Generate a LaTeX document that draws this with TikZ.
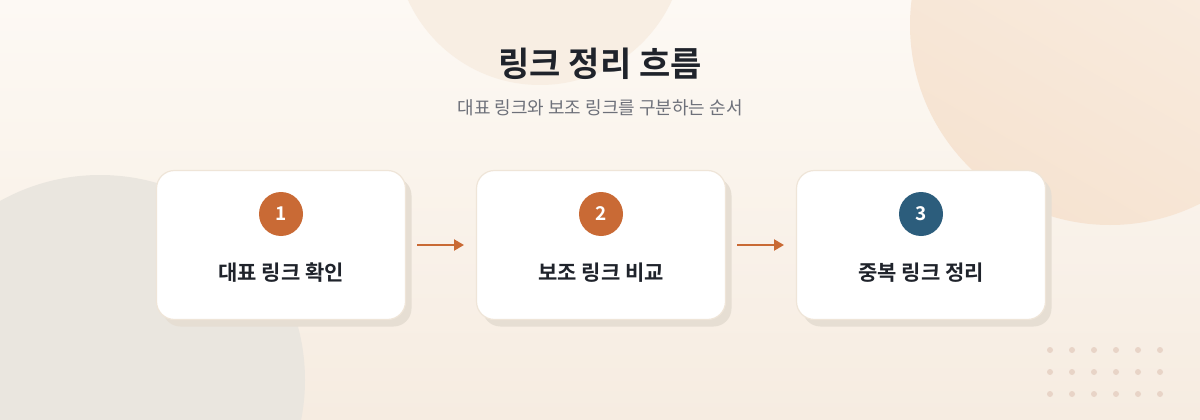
\documentclass[tikz,border=0pt]{standalone}
\usepackage{fontspec}
\setmainfont{Noto Sans CJK KR}
\newfontfamily\krbold{Noto Sans CJK KR Bold}
\usetikzlibrary{arrows.meta,shadows}
\definecolor{bgA}{HTML}{FDF8F1}
\definecolor{bgB}{HTML}{F6ECE1}
\definecolor{blobR}{HTML}{F6E3D1}
\definecolor{blobRL}{HTML}{FAEFE4}
\definecolor{blobT}{HTML}{F8EEE3}
\definecolor{blobL}{HTML}{EAE6DF}
\definecolor{cardBorder}{HTML}{EFE5D8}
\definecolor{shadowC}{HTML}{E6DED3}
\definecolor{orangeC}{HTML}{C96A35}
\definecolor{blueC}{HTML}{2C5D7C}
\definecolor{titleC}{HTML}{1F232B}
\definecolor{subC}{HTML}{6E717A}
\definecolor{dotC}{HTML}{E8D4C7}
\tikzset{
  card/.style={draw=cardBorder, line width=1.2pt, fill=white, rounded corners=18pt,
    minimum width=249pt, minimum height=149pt, inner sep=0pt},
  cardshadow/.style={fill=shadowC, rounded corners=18pt, minimum width=249pt, minimum height=149pt, inner sep=0pt},
  badge/.style={circle, minimum size=44pt, inner sep=0pt, text=white, font=\krbold\fontsize{19pt}{22pt}\selectfont},
  label/.style={text=titleC, font=\krbold\fontsize{21pt}{24pt}\selectfont},
  flow/.style={draw=orangeC, line width=2.2pt, -{Triangle[length=10pt,width=11pt]}},
  dot/.style={fill=dotC, draw=none}
}
\begin{document}
\begin{tikzpicture}[x=1pt,y=-1pt]
\useasboundingbox (0,0) rectangle (1200,420);
\shade[left color=bgA, right color=bgB, shading angle=0] (0,0) rectangle (1200,420);
\shade[top color=bgA!60!white, bottom color=bgB, opacity=0.6] (0,0) rectangle (1200,420);
\begin{scope}
\clip (0,0) rectangle (1200,420);
\fill[blobT] (540,-60) circle[radius=145pt];
\shade[top color=blobRL, bottom color=blobR, shading angle=-30] (1110,25) circle[radius=200pt];
\fill[blobL] (100,380) circle[radius=205pt];
\end{scope}
% title
\node[text=titleC, font=\krbold\fontsize{34pt}{38pt}\selectfont] (title) at (600,64) {링크 정리 흐름};
\node[text=subC, font=\fontsize{18pt}{21pt}\selectfont] (sub) at (600,108) {대표 링크와 보조 링크를 구분하는 순서};
% cards
\foreach \cx in {281,601,921}{
  \node[cardshadow] at (\cx+6,252) {};
}
\node[card] (c1) at (281,245) {};
\node[card] (c2) at (601,245) {};
\node[card] (c3) at (921,245) {};
\node[badge, fill=orangeC] (b1) at (281,214) {1};
\node[badge, fill=orangeC] (b2) at (601,214) {2};
\node[badge, fill=blueC] (b3) at (921,214) {3};
\node[label] (l1) at (281,273) {대표 링크 확인};
\node[label] (l2) at (601,273) {보조 링크 비교};
\node[label] (l3) at (921,273) {중복 링크 정리};
% arrows
\coordinate (a1s) at (417,245);
\coordinate (a1e) at (464,245);
\coordinate (a2s) at (737,245);
\coordinate (a2e) at (784,245);
\draw[flow] (a1s) -- (a1e);
\draw[flow] (a2s) -- (a2e);
% dots
\foreach \i in {0,...,5}{
  \foreach \j in {0,1,2}{
    \fill[dot] (1050+22*\i,350+22*\j) circle[radius=3pt];
  }
}
\end{tikzpicture}
\end{document}
